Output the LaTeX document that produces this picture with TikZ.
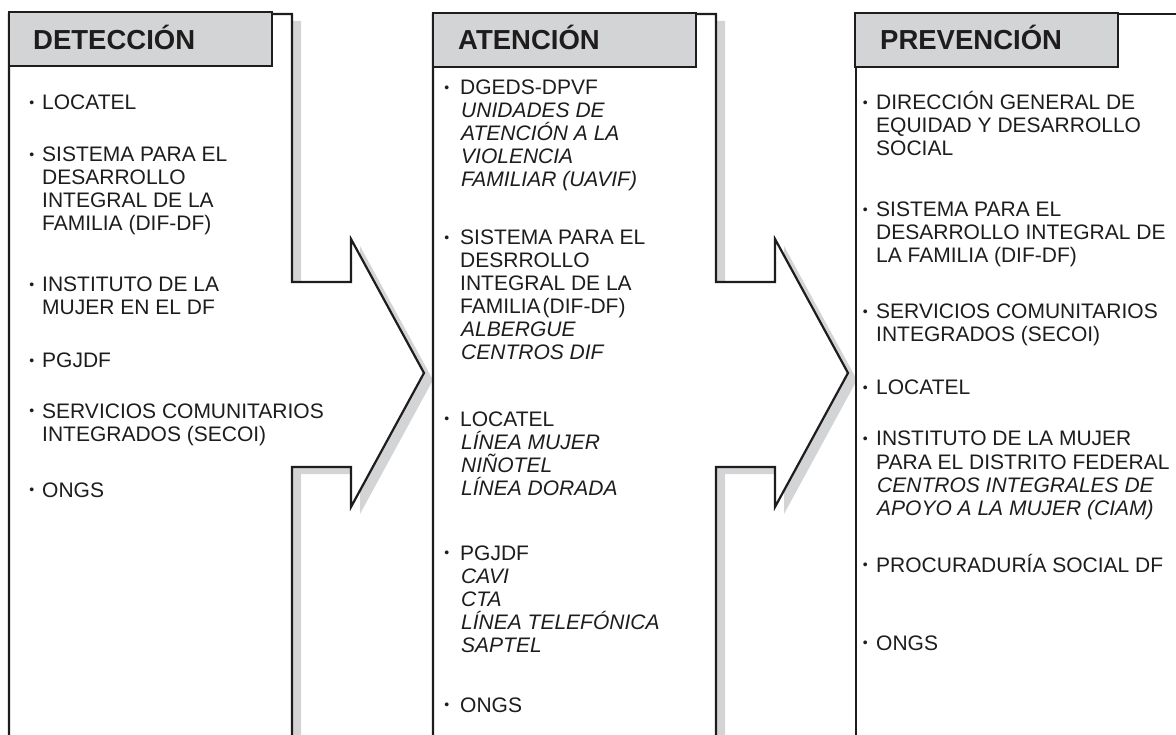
\documentclass[tikz,border=0pt]{standalone}
\usepackage{fontspec}
\setmainfont{Liberation Sans}
\definecolor{hdrgray}{RGB}{211,212,214}
\definecolor{shadgray}{RGB}{211,212,214}
\definecolor{linec}{RGB}{30,28,29}
\newcommand\bu[1]{\llap{\raisebox{2.5pt}{\fontsize{14}{14}\selectfont •}\hspace{#1}}}
\newcommand\arrowpanel[2]{(#1,14) -- (#2,14) -- (#2,282) -- ({#2+59},282) -- ({#2+59},239) -- ({#2+132},373) -- ({#2+59},507) -- ({#2+59},467) -- (#2,467) -- (#2,780) -- (#1,780) -- cycle}
\begin{document}
\begin{tikzpicture}[x=1pt,y=-1pt,
  shad/.style={fill=shadgray, draw=none},
  panel/.style={fill=white, draw=linec, line width=2.2pt, line join=miter},
  hdr/.style={fill=hdrgray, draw=linec, line width=2.2pt, anchor=north west, minimum width=263pt, minimum height=54pt, inner sep=0pt},
  htxt/.style={anchor=base west, inner sep=0pt, text=linec, font=\fontsize{27.5}{30}\selectfont\bfseries},
  txt/.style={anchor=base west, inner sep=0pt, text=linec, font=\fontsize{21}{23}\selectfont},
  itx/.style={txt, font=\fontsize{21}{23}\selectfont\itshape}]
\useasboundingbox (0,0) rectangle (1176,735);
\clip (0,0) rectangle (1176,735);
% panel 1
\fill[shad, shift={(9,7)}] \arrowpanel{9}{292};
\filldraw[panel] \arrowpanel{9}{292};
\node[hdr] (h1) at (8,11) {};
\node[htxt] (t1) at (33,50) {DETECCIÓN};
% panel 2
\fill[shad, shift={(9,7)}] \arrowpanel{433}{716};
\filldraw[panel] \arrowpanel{433}{716};
\node[hdr] (h2) at (432,12) {};
\node[htxt] (t2) at (458,50) {ATENCIÓN};
% panel 3
\filldraw[panel] (856,14) -- (1200,14) -- (1200,780) -- (856,780) -- cycle;
\node[hdr] (h3) at (854,12) {};
\node[htxt] (t3) at (880,50) {PREVENCIÓN};
% panel 1 text
\node[txt] (a1) at (42,110) {\bu{8pt}LOCATEL};
\node[txt] (a2) at (42,162) {\bu{8pt}SISTEMA PARA EL};
\node[txt] (a3) at (42,185) {DESARROLLO};
\node[txt] (a4) at (42,208) {INTEGRAL DE LA};
\node[txt] (a5) at (42,231) {FAMILIA (DIF-DF)};
\node[txt] (a6) at (42,292) {\bu{8pt}INSTITUTO DE LA};
\node[txt] (a7) at (42,315) {MUJER EN EL DF};
\node[txt] (a8) at (42,368) {\bu{8pt}PGJDF};
\node[txt] (a9) at (42,418) {\bu{8pt}SERVICIOS COMUNITARIOS};
\node[txt] (a10) at (42,441) {INTEGRADOS (SECOI)};
\node[txt] (a11) at (42,497) {\bu{8pt}ONGS};
% panel 2 text
\node[txt] (b1) at (460,95) {\bu{11pt}DGEDS-DPVF};
\node[itx] (b2) at (461,118) {UNIDADES DE};
\node[itx] (b3) at (461,141) {ATENCIÓN A LA};
\node[itx] (b4) at (461,164) {VIOLENCIA};
\node[itx] (b5) at (461,187) {FAMILIAR (UAVIF)};
\node[txt] (b6) at (460,245) {\bu{11pt}SISTEMA PARA EL};
\node[txt] (b7) at (460,268) {DESRROLLO};
\node[txt] (b8) at (460,291) {INTEGRAL DE LA};
\node[txt] (b9) at (460,314) {FAMILIA\hspace{2pt}(DIF-DF)};
\node[itx] (b10) at (461,337) {ALBERGUE};
\node[itx] (b11) at (461,360) {CENTROS DIF};
\node[txt] (b12) at (460,426) {\bu{11pt}LOCATEL};
\node[itx] (b13) at (461,449) {LÍNEA MUJER};
\node[itx] (b14) at (461,472) {NIÑOTEL};
\node[itx] (b15) at (461,495) {LÍNEA DORADA};
\node[txt] (b16) at (460,560) {\bu{11pt}PGJDF};
\node[itx] (b17) at (461,583) {CAVI};
\node[itx] (b18) at (461,606) {CTA};
\node[itx] (b19) at (461,629) {LÍNEA TELEFÓNICA};
\node[itx] (b20) at (461,652) {SAPTEL};
\node[txt] (b21) at (460,712) {\bu{11pt}ONGS};
% panel 3 text
\node[txt] (c1) at (876,110) {\bu{8.5pt}DIRECCIÓN GENERAL DE};
\node[txt] (c2) at (876,133) {EQUIDAD Y DESARROLLO};
\node[txt] (c3) at (876,156) {SOCIAL};
\node[txt] (c4) at (876,217) {\bu{8.5pt}SISTEMA PARA EL};
\node[txt] (c5) at (876,240) {DESARROLLO INTEGRAL DE};
\node[txt] (c6) at (876,263) {LA FAMILIA (DIF-DF)};
\node[txt] (c7) at (876,319) {\bu{8.5pt}SERVICIOS COMUNITARIOS};
\node[txt] (c8) at (876,342) {INTEGRADOS (SECOI)};
\node[txt] (c9) at (876,395) {\bu{8.5pt}LOCATEL};
\node[txt] (c10) at (876,446) {\bu{8.5pt}INSTITUTO DE LA MUJER};
\node[txt] (c11) at (876,469) {PARA EL DISTRITO FEDERAL};
\node[itx] (c12) at (877,492) {CENTROS INTEGRALES DE};
\node[itx] (c13) at (877,515) {APOYO A LA MUJER (CIAM)};
\node[txt] (c14) at (876,572) {\bu{8.5pt}PROCURADURÍA SOCIAL DF};
\node[txt] (c15) at (876,650) {\bu{8.5pt}ONGS};
\end{tikzpicture}
\end{document}
